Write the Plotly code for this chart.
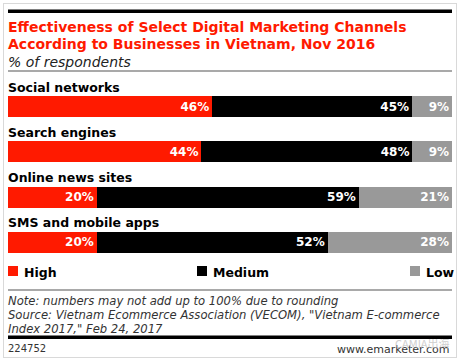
import plotly.graph_objects as go

categories = ["Social networks", "Search engines", "Online news sites", "SMS and mobile apps"]
high = [46, 44, 20, 20]
medium = [45, 48, 59, 52]
low = [9, 9, 21, 28]
series_names = ["High", "Medium", "Low"]
series_colors = ["#ff1a00", "#000000", "#999999"]

title_lines = ["Effectiveness of Select Digital Marketing Channels",
               "According to Businesses in Vietnam, Nov 2016"]
subtitle = "% of respondents"
note_lines = ["Note: numbers may not add up to 100% due to rounding",
              "Source: Vietnam Ecommerce Association (VECOM), \"Vietnam E-commerce",
              "Index 2017,\" Feb 24, 2017"]
chart_id = "224752"
site = "www.emarketer.com"
watermark = "CAMIA出海"

W, H = 462, 362
LEFT, RIGHT, TOP, BOTTOM = 8, 452, 84, 265   # plot area in pixels

def px_x(p):
    return p / W
def px_y(p):
    return 1 - p / H

ypos = list(range(len(categories)))
fig = go.Figure()
for name, vals, col in zip(series_names, [high, medium, low], series_colors):
    fig.add_trace(go.Bar(
        y=ypos, x=vals, name=name, orientation="h",
        marker=dict(color=col, line=dict(width=0)),
        width=0.465,
        text=[f"{v}%" for v in vals],
        textposition="inside", insidetextanchor="end",
        textfont=dict(family="DejaVu Sans", size=12, color="white", weight="bold"),
        showlegend=False, hoverinfo="skip",
    ))

ann = []
for i, c in enumerate(categories):
    ann.append(dict(x=px_x(LEFT), xref="paper", y=i, yref="y", yshift=19.5, text=c, showarrow=False,
                    xanchor="left", yanchor="middle", xshift=-2,
                    font=dict(family="DejaVu Sans", size=12.5, color="black", weight="bold")))

def txt(x, y, text, font, xanchor="left", **kw):
    d = dict(x=x, y=y, xref="paper", yref="paper", text=text, showarrow=False,
             xanchor=xanchor, yanchor="middle", font=font)
    d.update(kw)
    ann.append(d)

red_bold = dict(family="DejaVu Sans", size=14, color="#ff1a00", weight="bold")
txt(px_x(6), px_y(27), title_lines[0], red_bold)
txt(px_x(6), px_y(44), title_lines[1], red_bold)
txt(px_x(6), px_y(62), subtitle, dict(family="DejaVu Sans", size=14, color="#222", style="italic"))
for t, yy in zip(note_lines, [301, 315, 329]):
    txt(px_x(6), px_y(yy), t, dict(family="DejaVu Sans", size=11.6, color="#333", style="italic"))
txt(px_x(6), px_y(348), chart_id, dict(family="DejaVu Sans", size=10, color="#333"))
txt(px_x(RIGHT), px_y(349), site, dict(family="DejaVu Sans", size=11, color="#333"), xanchor="right")
txt(px_x(RIGHT), px_y(343), watermark, dict(family="Noto Sans CJK SC", size=11, color="#bbbbbb"),
    xanchor="right", opacity=0.7)

def band(y0, y1, x0, x1, color):
    return dict(type="rect", xref="paper", yref="paper", x0=px_x(x0), x1=px_x(x1),
                y0=px_y(y1), y1=px_y(y0), fillcolor=color, line=dict(width=0), layer="above")

def rule(y0, thickness, color):
    ann.append(dict(x=px_x(LEFT), y=px_y(y0), xref="paper", yref="paper", xanchor="left", yanchor="top",
                    text=" ", showarrow=False, width=RIGHT - LEFT, height=thickness,
                    bgcolor=color, borderpad=0, borderwidth=0, font=dict(size=1)))

shapes = [
    band(3, 4, 3, 457, "#d9d9d9"),
    band(357, 358, 3, 457, "#d9d9d9"),
    band(3, 358, 3, 4, "#d9d9d9"),
    band(3, 358, 456, 457, "#d9d9d9"),
    band(9.5, 12.5, LEFT, RIGHT, "#000000"),
    band(70.5, 71.5, LEFT, RIGHT, "#555555"),
    band(289.5, 290.5, LEFT, RIGHT, "#555555"),
    band(335.5, 338.5, LEFT, RIGHT, "#000000"),
]
rule(9.5, 3, "#000000")
rule(335.5, 3, "#000000")

legend_swatch_x = [8, 197, 410]
legfont = dict(family="DejaVu Sans", size=12.5, color="black", weight="bold")
for name, col, sx in zip(series_names, series_colors, legend_swatch_x):
    shapes.append(band(266, 276, sx, sx + 10, col))
    txt(px_x(sx + 14), px_y(272), name, legfont)

fig.update_layout(
    width=W, height=H, margin=dict(l=0, r=0, t=0, b=0, pad=0, autoexpand=False),
    barmode="stack", barnorm="percent",
    plot_bgcolor="rgba(0,0,0,0)", paper_bgcolor="white",
    xaxis=dict(visible=False, range=[0, 100], fixedrange=True,
               domain=[px_x(LEFT), px_x(RIGHT)]),
    yaxis=dict(visible=False, range=[3.5, -0.5], fixedrange=True,
               domain=[px_y(BOTTOM), px_y(TOP)]),
    annotations=ann, shapes=shapes,
    uniformtext=dict(mode="show", minsize=8),
)
fig.write_html("out.html", config={"displayModeBar": False},
               post_script="document.body.style.margin='0';document.body.style.overflow='hidden';")
